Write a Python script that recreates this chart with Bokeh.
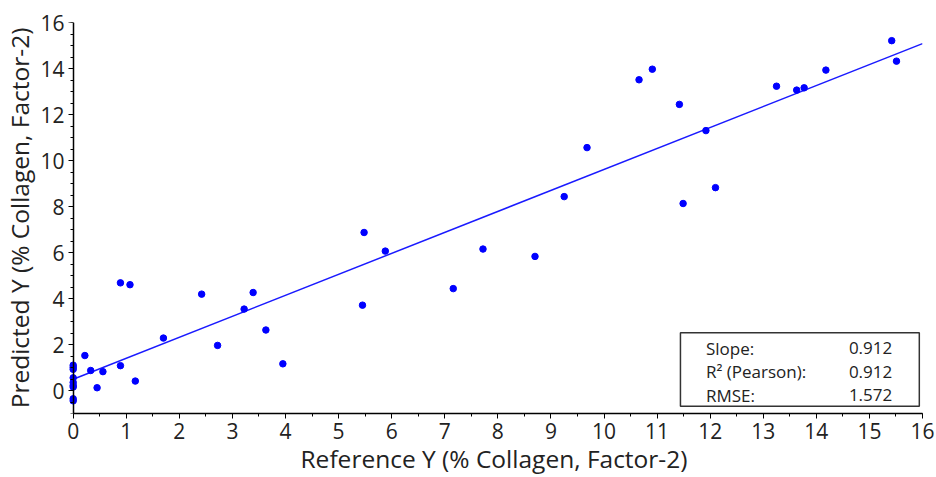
from bokeh.plotting import figure
from bokeh.models import Range1d, FixedTicker, BoxAnnotation, Label, LinearAxis
from bokeh.embed import file_html
from bokeh.resources import INLINE

# Reference values (% collagen, factor-2)
ref_y = [0, 0, 0, 0, 0, 0, 0, 0, 0,
         0.22, 0.33, 0.45, 0.56, 0.89, 0.89, 1.07, 1.17, 1.70, 2.42, 2.72,
         3.22, 3.39, 3.63, 3.95, 5.45, 5.48, 5.88, 7.16, 7.72, 8.70, 9.25,
         9.68, 10.66, 10.91, 11.42, 11.49, 11.92, 12.10, 13.25, 13.63, 13.77,
         14.18, 15.42, 15.51]
# Predicted values
pred_y = [1.10, 1.01, 0.92, 0.55, 0.35, 0.22, 0.15, -0.36, -0.45,
          1.52, 0.87, 0.12, 0.82, 4.68, 1.08, 4.60, 0.41, 2.28, 4.19, 1.96,
          3.54, 4.26, 2.63, 1.16, 3.71, 6.87, 6.06, 4.43, 6.15, 5.83, 8.43,
          10.56, 13.51, 13.97, 12.44, 8.13, 11.30, 8.82, 13.23, 13.06, 13.16,
          13.93, 15.21, 14.32]

fit_slope = 0.912
fit_intercept = 0.49
fit_x = [0, 16]
fit_y = [fit_intercept + fit_slope * v for v in fit_x]

stat_names = ["Slope:", "R\u00b2 (Pearson):", "RMSE:"]
stat_values = ["0.912", "0.912", "1.572"]

x_ticks = list(range(0, 17))
y_ticks = list(range(0, 17, 2))
x_minor = [i * 0.5 for i in range(0, 33)]
y_minor = [i * 0.5 for i in range(-2, 33)]

FONT = "Open Sans"
TXT = "#222222"

p = figure(width=936, height=477, output_backend="svg", toolbar_location=None,
           x_range=Range1d(-0.145, 16), y_range=Range1d(-1, 16),
           min_border_left=64, min_border_right=14, min_border_top=22,
           min_border_bottom=63)
p.outline_line_color = None
p.grid.visible = False
p.background_fill_color = "white"

p.xaxis.ticker = FixedTicker(ticks=x_ticks, minor_ticks=x_minor)
p.yaxis.ticker = FixedTicker(ticks=y_ticks, minor_ticks=y_minor)
p.xaxis.bounds = (0, 16)
p.xaxis.axis_label = "Reference Y (% Collagen, Factor-2)"
p.yaxis.axis_label = "Predicted Y (% Collagen, Factor-2)"
for ax in (p.xaxis, p.yaxis):
    ax.axis_line_color = "black"
    ax.axis_line_width = 1.5
    ax.major_tick_line_color = "black"
    ax.minor_tick_line_color = "black"
    ax.major_tick_in = 0
    ax.major_tick_out = 5
    ax.minor_tick_in = 0
    ax.minor_tick_out = 3
    ax.major_label_text_font = FONT
    ax.major_label_text_font_size = "21px"
    ax.major_label_text_color = TXT
    ax.axis_label_text_font = FONT
    ax.axis_label_text_font_size = "24.5px"
    ax.axis_label_text_font_style = "normal"
    ax.axis_label_text_color = TXT
    ax.axis_label_text_line_height = 0.8
    ax.major_label_text_line_height = 0.9
p.xaxis.major_label_standoff = 4
p.xaxis.axis_label_standoff = 0

# left axis at frame edge carries only labels; its line and ticks are hidden
p.yaxis.axis_line_color = None
p.yaxis.major_tick_line_color = None
p.yaxis.minor_tick_line_color = None
p.yaxis.major_tick_out = 0
p.yaxis.minor_tick_out = 0
p.yaxis.major_label_standoff = 1
p.yaxis.axis_label_standoff = 1

# y axis line and ticks drawn at x = 0
y0 = LinearAxis(fixed_location=0, ticker=FixedTicker(ticks=y_ticks, minor_ticks=y_minor),
                bounds=(-1, 16), axis_line_color="black", axis_line_width=1.5,
                major_tick_line_color="black", minor_tick_line_color="black",
                major_tick_in=5, major_tick_out=0, minor_tick_in=3, minor_tick_out=0,
                major_label_text_alpha=0, major_label_text_font_size="1px",
                major_label_standoff=0)
p.add_layout(y0, "right")

p.line(fit_x, fit_y, line_color="#1a1aff", line_width=1.5)
p.scatter(ref_y, pred_y, size=6.5, fill_color="#0000ff", line_color="#0000ff")

box = BoxAnnotation(left=11.44, right=15.94, top=2.51, bottom=-0.69,
                    fill_color="white", fill_alpha=1.0,
                    line_color="#333333", line_alpha=1.0, line_width=1.5)
p.add_layout(box)

row_y = [1.83, 0.82, -0.21]
for name, val, yy in zip(stat_names, stat_values, row_y):
    p.add_layout(Label(x=11.92, y=yy, text=name, text_font=FONT,
                       text_font_size="17px", text_color=TXT,
                       text_baseline="middle", text_align="left"))
    p.add_layout(Label(x=15.43, y=yy, text=val, text_font=FONT,
                       text_font_size="17px", text_color=TXT,
                       text_baseline="middle", text_align="right"))

open("out.html", "w").write(file_html(p, INLINE))
